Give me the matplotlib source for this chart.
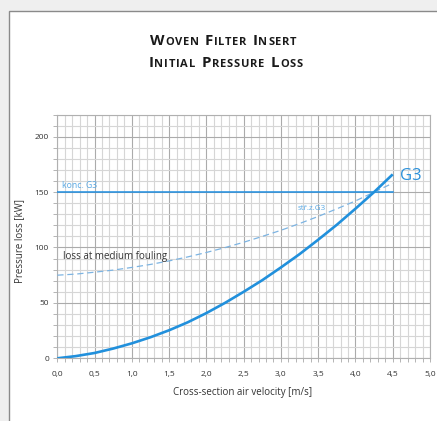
import matplotlib
matplotlib.use("Agg")
import matplotlib.pyplot as plt
from matplotlib.patches import Rectangle
from matplotlib.ticker import MultipleLocator

# ---- data ----
velocity = [0.0, 0.25, 0.5, 0.75, 1.0, 1.25, 1.5, 1.75, 2.0, 2.25, 2.5,
            2.75, 3.0, 3.25, 3.5, 3.75, 4.0, 4.25, 4.5]
g3_initial = [0, 2, 4.8, 8.8, 13.5, 19, 25.3, 32.5, 40.8, 50, 60,
              70.5, 82, 94, 107, 120.5, 135, 150, 166]
g3_medium = [75, 76, 77.7, 79.6, 82, 84.7, 87.9, 91.5, 95.5, 99.9, 104.7,
             110, 115.5, 121.6, 128, 134.9, 142, 150, 158]
final_velocity = [0.0, 4.5]
final_pressure = [150, 150]

x_tick_values = [0.0, 0.5, 1.0, 1.5, 2.0, 2.5, 3.0, 3.5, 4.0, 4.5, 5.0]
x_tick_labels = ["0,0", "0,5", "1,0", "1,5", "2,0", "2,5", "3,0", "3,5", "4,0", "4,5", "5,0"]
y_tick_values = [0, 50, 100, 150, 200]
y_tick_labels = ["0", "50", "100", "150", "200"]

title_lines = ["Woven Filter Insert", "Initial Pressure Loss"]

FONT = "Open Sans"
plt.rcParams['font.family'] = [FONT, 'DejaVu Sans']

W, H = 437, 421
fig = plt.figure(figsize=(W / 100, H / 100), dpi=100)
fig.patch.set_facecolor('#efefef')
fig.add_artist(Rectangle((8.5 / W, -0.1), 1.2, (H - 10.5) / H + 0.1,
                         transform=fig.transFigure, facecolor='white',
                         edgecolor='#8a8a8a', lw=1.0, zorder=0))

x0, x1 = 57.3, 430.0
y0, y1 = 358.3, 114.5
ax = fig.add_axes([x0 / W, (H - y0) / H, (x1 - x0) / W, (y0 - y1) / H])
ax.set_facecolor('white')
ax.set_xlim(0, 5)
ax.set_ylim(0, 220)

ax.xaxis.set_minor_locator(MultipleLocator(0.1))
ax.yaxis.set_minor_locator(MultipleLocator(10))
ax.set_xticks(x_tick_values, x_tick_labels)
ax.set_yticks(y_tick_values, y_tick_labels)
ax.grid(which='minor', color='#d6d6d6', lw=0.8)
ax.grid(which='major', color='#ababab', lw=0.8)
ax.set_axisbelow(True)
for s in ax.spines.values():
    s.set_color('#b0b0b0')
    s.set_linewidth(0.8)
ax.tick_params(which='both', direction='out', length=3, color='#a8a8a8',
               width=0.6, labelsize=6, labelcolor='#333333')
ax.tick_params(axis='x', pad=6)
ax.tick_params(axis='y', pad=3)

ax.plot(final_velocity, final_pressure, color='#1f8ee0', lw=1.1, zorder=3)
ax.plot(velocity, g3_medium, color='#7db4e2', lw=0.9, ls=(0, (5, 3)), zorder=3)
ax.plot(velocity, g3_initial, color='#2190dc', lw=1.9, zorder=4,
        solid_capstyle='butt')

ax.text(0.06, 151.5, "konc. G3", color='#5aaae6', fontsize=6.3, va='bottom', ha='left')
ax.text(3.225, 132.3, "stř.z.G3", color='#5aaae6', fontsize=5.8, va='bottom', ha='left')
ax.text(4.60, 164.5, "G3", color='#2a90da', fontsize=12, va='center', ha='left')
ax.text(0.08, 89.5, "loss at medium fouling", color='#333333', fontsize=7,
        va='baseline', ha='left')

ax.set_xlabel("Cross-section air velocity [m/s]", fontsize=7, color='#333333')
ax.xaxis.set_label_coords(0.497, (y0 - 392.7) / (y0 - y1))
ax.xaxis.label.set_va('center')
ax.set_ylabel("Pressure loss [kW]", fontsize=7, color='#333333')
ax.yaxis.set_label_coords((20 - x0) / (x1 - x0), (y0 - 241) / (y0 - y1))
ax.yaxis.label.set_va('center')

# ---- small-caps, letter-spaced title ----
renderer = fig.canvas.get_renderer()
big, small = 10.8, 8.0
layout = [(title_lines[0], 45.0, 150.0, 296.7),
          (title_lines[1], 66.7, 148.3, 302.7)]
for line, baseline, left, right in layout:
    chars = []
    for w_i, word in enumerate(line.split(" ")):
        if w_i > 0:
            chars.append((" ", None))
        for c_i, c in enumerate(word):
            chars.append((c.upper(), big if c_i == 0 else small))
    items = []
    for c, fs in chars:
        if c == " ":
            items.append((None, 4.5))
            continue
        t = fig.text(0, 0, c, fontsize=fs, fontweight='bold', color='#1a1a1a',
                     ha='left', va='baseline', family=['Open Sans'])
        items.append((t, t.get_window_extent(renderer).width))
    natural = sum(w for _, w in items)
    extra = (right - left - natural) / (len(items) - 1)
    x = left
    for t, w in items:
        if t is not None:
            t.set_position((x / W, (H - baseline) / H))
        x += w + extra

fig.savefig("out.png", dpi=100, facecolor=fig.get_facecolor())
